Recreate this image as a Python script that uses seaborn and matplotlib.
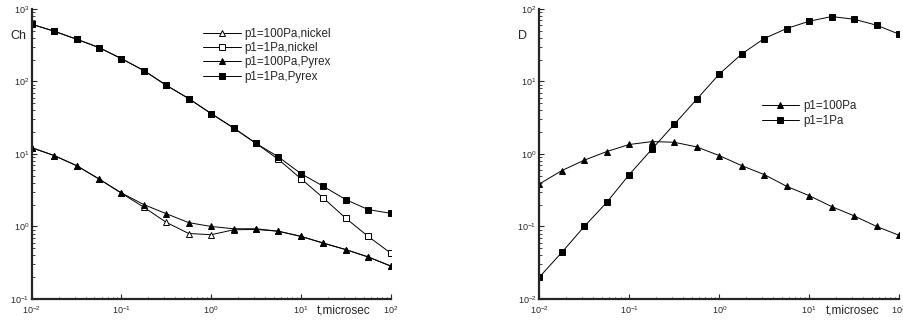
import matplotlib
matplotlib.use("Agg")
import matplotlib.pyplot as plt
import matplotlib.ticker as ticker
import numpy as np
import pandas as pd
import seaborn as sns

# time points (microsec), 4 per decade
t = [0.01, 0.0178, 0.0316, 0.0562, 0.1, 0.178, 0.316, 0.562, 1.0,
     1.78, 3.16, 5.62, 10.0, 17.8, 31.6, 56.2, 100.0]

# left panel: Ch
ch_100pa_nickel = [12.2, 9.5, 6.9, 4.52, 2.87, 1.84, 1.14, 0.80, 0.77,
                   0.90, 0.91, 0.86, 0.73, 0.59, 0.48, 0.38, 0.285]
ch_1pa_nickel = [615, 492, 382, 293, 206, 141, 88.5, 58, 36, 22.8, 14.0,
                 8.4, 4.57, 2.47, 1.30, 0.73, 0.43]
ch_100pa_pyrex = [12.2, 9.5, 6.9, 4.52, 2.90, 2.0, 1.50, 1.13, 1.0,
                  0.93, 0.93, 0.86, 0.73, 0.59, 0.48, 0.38, 0.285]
ch_1pa_pyrex = [615, 492, 382, 293, 206, 141, 88.5, 58, 36, 22.8, 14.0,
                9.1, 5.36, 3.58, 2.35, 1.71, 1.52]

# right panel: D
d_100pa = [0.385, 0.59, 0.82, 1.08, 1.35, 1.48, 1.45, 1.25, 0.95, 0.69,
           0.52, 0.358, 0.266, 0.188, 0.140, 0.100, 0.0755]
d_1pa = [0.020, 0.044, 0.10, 0.215, 0.52, 1.16, 2.56, 5.67, 12.6, 23.9,
         39, 53.6, 67.6, 78.4, 72, 59.6, 44.8]

sns.set_style("ticks")
plt.rcParams['font.family'] = ['Liberation Sans', 'DejaVu Sans']
plt.rcParams['mathtext.fontset'] = 'custom'
plt.rcParams['mathtext.rm'] = 'Liberation Sans'
plt.rcParams['mathtext.it'] = 'Liberation Sans'
plt.rcParams['mathtext.default'] = 'regular'

fig = plt.figure(figsize=(9.04, 3.22), dpi=100)
ax1 = fig.add_axes([0.0351, 0.0714, 0.397, 0.901])
ax2 = fig.add_axes([0.5966, 0.0714, 0.398, 0.901])

LW = 0.7
MS = 4.6


def draw(ax, y, label, marker, filled):
    sns.lineplot(x=t, y=y, ax=ax, label=label, color='black', lw=LW,
                 marker=marker, ms=MS, mec='black', mew=0.7,
                 mfc='black' if filled else 'white')


draw(ax1, ch_100pa_nickel, 'p1=100Pa,nickel', '^', False)
draw(ax1, ch_1pa_nickel, 'p1=1Pa,nickel', 's', False)
draw(ax1, ch_100pa_pyrex, 'p1=100Pa,Pyrex', '^', True)
draw(ax1, ch_1pa_pyrex, 'p1=1Pa,Pyrex', 's', True)

draw(ax2, d_100pa, 'p1=100Pa', '^', True)
draw(ax2, d_1pa, 'p1=1Pa', 's', True)


def style_axes(ax, ylim, ylab):
    ax.set_xscale('log')
    ax.set_yscale('log')
    ax.set_xlim(0.01, 100)
    ax.set_ylim(*ylim)
    sns.despine(ax=ax)
    for s in ['left', 'bottom']:
        ax.spines[s].set_linewidth(1.6)
    ax.xaxis.set_major_locator(ticker.LogLocator(base=10))
    ax.yaxis.set_major_locator(ticker.LogLocator(base=10))
    ax.xaxis.set_minor_locator(ticker.LogLocator(base=10, subs=np.arange(2, 10)))
    ax.yaxis.set_minor_locator(ticker.LogLocator(base=10, subs=np.arange(2, 10)))
    ax.tick_params(which='major', direction='in', length=3.5, width=0.8,
                   labelsize=6.5)
    ax.tick_params(axis='x', which='major', pad=4)
    ax.tick_params(axis='y', which='major', pad=2)
    ax.tick_params(which='minor', direction='in', length=1.8, width=0.6)
    ax.set_xlabel('')
    ax.set_ylabel('')
    ax.text(-0.06, 0.905, ylab, transform=ax.transAxes, fontsize=9,
            ha='left', va='center')
    ax.text(0.795, -0.04, 't,microsec', transform=ax.transAxes, fontsize=8.5,
            ha='left', va='center')


style_axes(ax1, (0.1, 1000), 'Ch')
style_axes(ax2, (0.01, 100), 'D')

leg_kw = dict(loc='upper left', frameon=False, fontsize=8.4, handlelength=3.2,
              handletextpad=0.35, labelspacing=0.2, borderaxespad=0,
              borderpad=0)
ax1.legend(bbox_to_anchor=(0.478, 0.935), **leg_kw)
ax2.legend(bbox_to_anchor=(0.618, 0.685), **leg_kw)

fig.savefig('out.png', dpi=100)
